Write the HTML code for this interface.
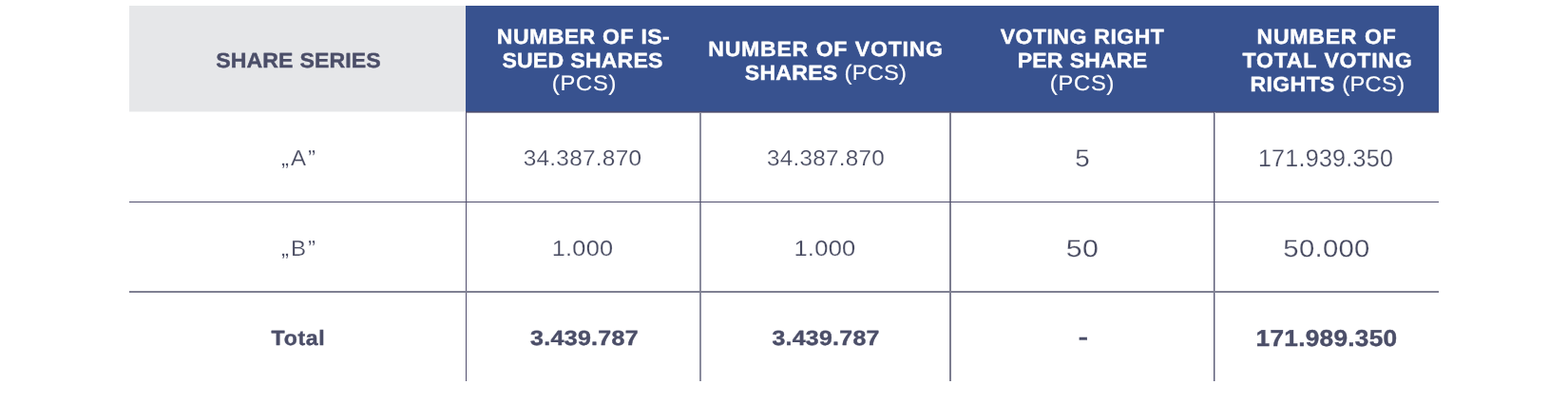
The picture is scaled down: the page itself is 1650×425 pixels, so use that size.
<!DOCTYPE html>
<html lang="en">
<head>
<meta charset="utf-8">
<title>Share series and voting rights</title>
<style>
  html, body { margin: 0; padding: 0; background: #ffffff; }
  body { width: 1650px; height: 425px; position: relative; overflow: hidden;
         font-family: "Liberation Sans", sans-serif; color: #4b4e68;
         text-rendering: geometricPrecision; }
  .tbl { position: absolute; left: 0; top: 0; width: 1650px; height: 425px; }
  .tbl div { position: absolute; }
  .tbl .row, .tbl .cell { position: static; }
  .hgray { left: 136px; top: 6px; width: 354px; height: 111px; background: #e6e7e9; }
  .hgray2 { left: 136px; top: 117px; width: 354px; height: 1px; background: #f2f3f4; }
  .hblue { left: 490px; top: 6px; width: 1024px; height: 111px; background: #38528f; }
  .hb1 { left: 490px; top: 117px; width: 1024px; height: 1px; background: #4a4c70; }
  .hb2 { left: 490px; top: 118px; width: 1024px; height: 1px; background: #8e8da1; }
  .hl { left: 136px; width: 1378px; height: 1px; background: #514f6e; }
  .hl.s { background: #7f8092; }
  .vl { top: 118px; height: 283px; width: 1px; background: #514f6e; }
  .vl.s { background: #8a8b9d; }
  .vl.u { background: #7c7d90; }
  .vl.m { background: #5c5c77; }
  .vl.f { background: #b4b5c1; }
  .t { white-space: nowrap; line-height: 26px; height: 26px; }
  .b { font-weight: 700; -webkit-text-stroke: 0.4px currentColor; word-spacing: 0.5px; }
  .r { font-weight: 400; -webkit-text-stroke: 0.2px #ffffff; color: #474a60; }
  .r.w, .b .n { font-weight: 400; -webkit-text-stroke: 0.15px #ffffff; color: #ffffff; }
  .b .n { font-size: 22.6px; }
  .w { color: #ffffff; }
</style>
</head>
<body>
<div class="tbl" role="table">
  <div class="hgray"></div>
  <div class="hgray2"></div>
  <div class="hblue"></div>
  <div class="hb1"></div>
  <div class="hb2"></div>
  <div class="vl" style="left:490px"></div>
  <div class="vl s" style="left:736px"></div>
  <div class="vl s" style="left:737px"></div>
  <div class="vl u" style="left:999px"></div>
  <div class="vl u" style="left:1000px"></div>
  <div class="vl m" style="left:1277px"></div>
  <div class="vl f" style="left:1278px"></div>
  <div class="hl" style="top:212px"></div>
  <div class="hl s" style="top:306px"></div>
  <div class="hl s" style="top:307px"></div>
  <div class="row" role="row">
    <div class="cell" role="columnheader">
      <div class="t b" style="left:313.6px;top:51px;font-size:22.0px;letter-spacing:0.08px;transform:translateX(-50%) scaleX(1.050)">SHARE SERIES</div>
    </div>
    <div class="cell" role="columnheader">
      <div class="t b w" style="left:613.6px;top:26px;font-size:22.0px;letter-spacing:0.41px;transform:translateX(-50%) scaleX(1.050)">NUMBER OF IS-</div>
      <div class="t b w" style="left:613.4px;top:51px;font-size:22.0px;letter-spacing:0.14px;transform:translateX(-50%) scaleX(1.050)">SUED SHARES</div>
      <div class="t r w" style="left:614.8px;top:75px;font-size:22.6px;letter-spacing:0.76px;transform:translateX(-50%) scaleX(1.050)">(PCS)</div>
    </div>
    <div class="cell" role="columnheader">
      <div class="t b w" style="left:869.4px;top:39px;font-size:22.0px;letter-spacing:0.69px;transform:translateX(-50%) scaleX(1.050)">NUMBER OF VOTING</div>
      <div class="t b w" style="left:869.1px;top:64px;font-size:22.0px;letter-spacing:0.20px;transform:translateX(-50%) scaleX(1.050)">SHARES <span class="n">(PCS)</span></div>
    </div>
    <div class="cell" role="columnheader">
      <div class="t b w" style="left:1139.0px;top:26px;font-size:22.0px;letter-spacing:0.42px;transform:translateX(-50%) scaleX(1.050)">VOTING RIGHT</div>
      <div class="t b w" style="left:1138.5px;top:51px;font-size:22.0px;letter-spacing:0.11px;transform:translateX(-50%) scaleX(1.050)">PER SHARE</div>
      <div class="t r w" style="left:1139.1px;top:75px;font-size:22.6px;letter-spacing:0.70px;transform:translateX(-50%) scaleX(1.050)">(PCS)</div>
    </div>
    <div class="cell" role="columnheader">
      <div class="t b w" style="left:1395.7px;top:26px;font-size:22.0px;letter-spacing:0.70px;transform:translateX(-50%) scaleX(1.050)">NUMBER OF</div>
      <div class="t b w" style="left:1396.9px;top:51px;font-size:22.0px;letter-spacing:0.72px;transform:translateX(-50%) scaleX(1.050)">TOTAL VOTING</div>
      <div class="t b w" style="left:1396.8px;top:76px;font-size:22.0px;letter-spacing:0.34px;transform:translateX(-50%) scaleX(1.050)">RIGHTS <span class="n">(PCS)</span></div>
    </div>
  </div>
  <div class="row" role="row">
    <div class="cell" role="cell">
      <div class="t r" style="left:314.6px;top:153px;font-size:22.9px;letter-spacing:1.86px;transform:translateX(-50%) scaleX(1.050)">„A”</div>
    </div>
    <div class="cell" role="cell">
      <div class="t r" style="left:613.4px;top:153px;font-size:22.9px;letter-spacing:0.25px;transform:translateX(-50%) scaleX(1.065)">34.387.870</div>
    </div>
    <div class="cell" role="cell">
      <div class="t r" style="left:868.5px;top:153px;font-size:22.9px;letter-spacing:0.25px;transform:translateX(-50%) scaleX(1.059)">34.387.870</div>
    </div>
    <div class="cell" role="cell">
      <div class="t r" style="left:1138.7px;top:154px;font-size:25.5px;letter-spacing:0.25px;transform:translateX(-50%) scaleX(1.088)">5</div>
    </div>
    <div class="cell" role="cell">
      <div class="t r" style="left:1395.0px;top:154px;font-size:25.5px;letter-spacing:0.25px;transform:translateX(-50%) scaleX(0.984)">171.939.350</div>
    </div>
  </div>
  <div class="row" role="row">
    <div class="cell" role="cell">
      <div class="t r" style="left:314.6px;top:248px;font-size:22.9px;letter-spacing:1.86px;transform:translateX(-50%) scaleX(1.050)">„B”</div>
    </div>
    <div class="cell" role="cell">
      <div class="t r" style="left:612.9px;top:248px;font-size:22.9px;letter-spacing:0.25px;transform:translateX(-50%) scaleX(1.105)">1.000</div>
    </div>
    <div class="cell" role="cell">
      <div class="t r" style="left:868.2px;top:248px;font-size:22.9px;letter-spacing:0.25px;transform:translateX(-50%) scaleX(1.113)">1.000</div>
    </div>
    <div class="cell" role="cell">
      <div class="t r" style="left:1138.8px;top:249px;font-size:25.5px;letter-spacing:0.25px;transform:translateX(-50%) scaleX(1.191)">50</div>
    </div>
    <div class="cell" role="cell">
      <div class="t r" style="left:1396.2px;top:249px;font-size:25.5px;letter-spacing:0.25px;transform:translateX(-50%) scaleX(1.150)">50.000</div>
    </div>
  </div>
  <div class="row" role="row">
    <div class="cell" role="cell">
      <div class="t b" style="left:313.9px;top:343px;font-size:22.0px;letter-spacing:0.64px;transform:translateX(-50%) scaleX(1.050)">Total</div>
    </div>
    <div class="cell" role="cell">
      <div class="t b" style="left:614.5px;top:343px;font-size:22.0px;letter-spacing:0.25px;transform:translateX(-50%) scaleX(1.138)">3.439.787</div>
    </div>
    <div class="cell" role="cell">
      <div class="t b" style="left:868.6px;top:343px;font-size:22.0px;letter-spacing:0.25px;transform:translateX(-50%) scaleX(1.131)">3.439.787</div>
    </div>
    <div class="cell" role="cell">
      <div class="t b" style="left:1139.5px;top:342px;font-size:22.0px;letter-spacing:0.25px;transform:translateX(-50%) scaleX(1.394)">-</div>
    </div>
    <div class="cell" role="cell">
      <div class="t b" style="left:1395.6px;top:344px;font-size:24.3px;letter-spacing:0.25px;transform:translateX(-50%) scaleX(1.080)">171.989.350</div>
    </div>
  </div>
</div>
</body>
</html>
